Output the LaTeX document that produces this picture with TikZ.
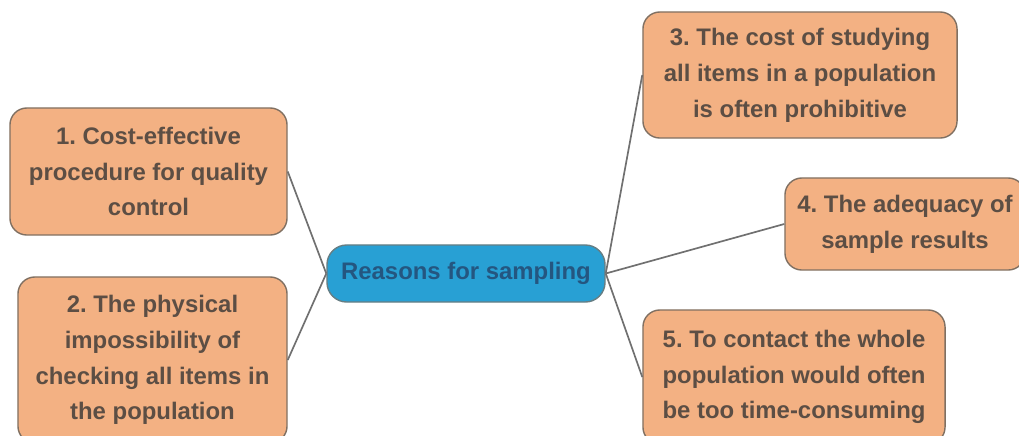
\documentclass[tikz,border=0pt]{standalone}
\usepackage{fontspec}
\setmainfont{Liberation Sans}
\usepackage{tikz}
\usetikzlibrary{positioning}
\definecolor{BoxOrange}{RGB}{243,177,131}
\definecolor{BoxEdge}{RGB}{128,112,98}
\definecolor{BoxText}{RGB}{92,78,68}
\definecolor{HubBlue}{RGB}{40,160,212}
\definecolor{HubText}{RGB}{36,86,128}
\definecolor{LinkGray}{RGB}{112,112,112}
\frenchspacing

\begin{document}
\begin{tikzpicture}[x=0.025cm,y=-0.025cm,
    reason/.style={draw=BoxEdge,line width=1pt,fill=BoxOrange,rounded corners=12pt,
      align=center,text=BoxText,font=\fontsize{17}{25.5}\selectfont\bfseries,inner sep=2pt},
    hub/.style={draw=BoxEdge!70!HubBlue,line width=1pt,fill=HubBlue,rounded corners=14pt,
      align=center,text=HubText,font=\fontsize{17}{25.5}\selectfont\bfseries},
    link/.style={LinkGray,line width=1.2pt}]
    \useasboundingbox (0,0) rectangle (1019,435);
    \node[hub,minimum width=6.95cm,minimum height=1.425cm] (hub) at (466,273.5) {Reasons for sampling};
    \node[reason,minimum width=6.925cm,minimum height=3.175cm] (r1) at (148.5,171.5)
      {1. Cost-effective\\procedure for quality\\control};
    \node[reason,minimum width=6.725cm,minimum height=4.15cm] (r2) at (152.5,360)
      {2. The physical\\impossibility of\\checking all items in\\the population};
    \node[reason,minimum width=7.85cm,minimum height=3.15cm] (r3) at (800,75)
      {3. The cost of studying\\all items in a population\\is often prohibitive};
    \node[reason,minimum width=6cm,minimum height=2.3cm] (r4) at (905,224)
      {4. The adequacy of\\sample results};
    \node[reason,minimum width=7.55cm,minimum height=3.35cm] (r5) at (794,377)
      {5. To contact the whole\\population would often\\be too time-consuming};
    \draw[link] (hub.west) -- (r1.east);
    \draw[link] (hub.west) -- (r2.east);
    \draw[link] (hub.east) -- (r3.west);
    \draw[link] (hub.east) -- (r4.west);
    \draw[link] (hub.east) -- (r5.west);
  \end{tikzpicture}
\end{document}
